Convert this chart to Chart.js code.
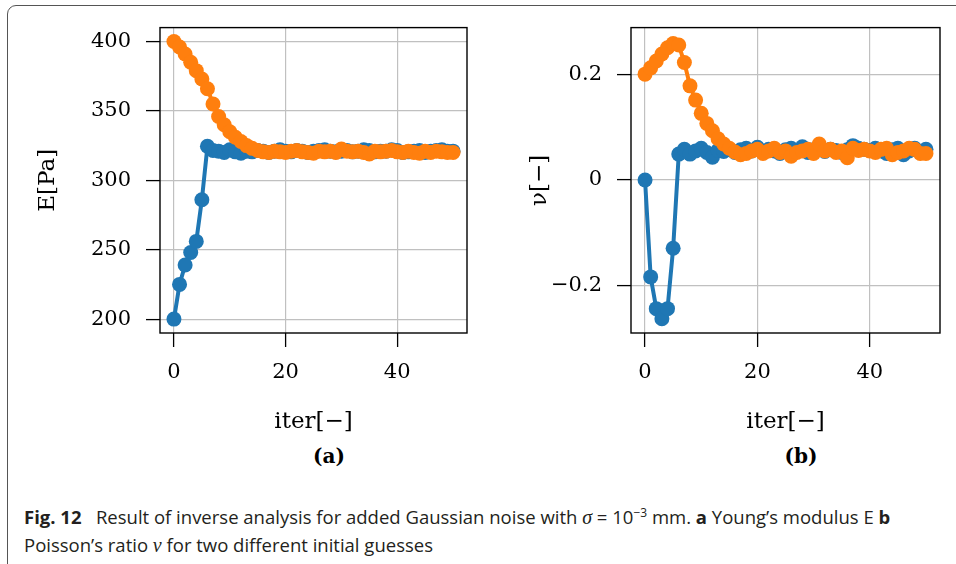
<!DOCTYPE html>
<html>
<head>
<meta charset="utf-8">
<script src="https://cdn.jsdelivr.net/npm/chart.js@4.4.0/dist/chart.umd.min.js"></script>
<style>
  body { margin: 0; background: #fff; width: 956px; height: 564px; overflow: hidden; position: relative; }
  .frame { position: absolute; left: 7px; top: 5px; width: 1000px; height: 600px; border: 1px solid #555; border-radius: 9px; }
  canvas { position: absolute; top: 0; }
  .panel { position: absolute; top: 444px; font-family: 'DejaVu Serif', serif; font-weight: bold; font-size: 20px; transform: translateX(-50%); }
  .caption { position: absolute; left: 24px; top: 503px; font-family: 'Open Sans', sans-serif; font-size: 18.5px; line-height: 27px; color: #231f20; white-space: nowrap; }
  .caption i { font-family: 'Liberation Serif', serif; font-size: 20px; }
  .caption sup { font-size: 12px; line-height: 0; }
</style>
</head>
<body>
<div class="frame"></div>
<canvas id="chartE" width="480" height="440" style="left:0"></canvas>
<canvas id="chartNu" width="476" height="440" style="left:480px"></canvas>
<div class="panel" style="left:329px">(a)</div>
<div class="panel" style="left:801px">(b)</div>
<div class="caption"><b>Fig. 12</b>&nbsp;&nbsp;&nbsp;Result of inverse analysis for added Gaussian noise with <i>σ</i> = 10<sup>−3</sup> mm. <b>a</b> Young’s modulus E <b>b</b><br>Poisson’s ratio <i>ν</i> for two different initial guesses</div>
<script>
// iteration numbers
const iters = [0, 1, 2, 3, 4, 5, 6, 7, 8, 9, 10, 11, 12, 13, 14, 15, 16, 17, 18, 19, 20,
  21, 22, 23, 24, 25, 26, 27, 28, 29, 30, 31, 32, 33, 34, 35, 36, 37, 38, 39, 40,
  41, 42, 43, 44, 45, 46, 47, 48, 49, 50];

// Young's modulus E [Pa], start guess 200 (blue) and 400 (orange)
const E_low = [200, 225, 239, 248, 256, 286, 324.5, 321.5, 321, 320, 322, 320.5, 319.5,
  321, 320.5, 321.5, 321, 320, 321, 322, 321, 320.5, 321.5, 321, 320, 321, 321.5, 322,
  321, 320.5, 321, 321.5, 320.5, 321, 322, 321.5, 320.5, 321, 321, 322, 321.5, 320,
  320.5, 321, 321.5, 320, 321, 321.5, 322, 321, 321];
const E_high = [400, 396, 391, 385, 379, 373, 366, 355, 346, 340, 335, 331, 328, 325, 323,
  321.5, 320.5, 320, 321, 320.5, 320, 321, 321.5, 320.5, 320, 319.5, 321, 320.5, 321,
  320, 322.5, 321, 320.5, 321, 320, 319, 321, 320.5, 321, 321.5, 320.5, 320, 321, 320,
  319.5, 321, 320, 321, 320.5, 320, 320];

// Poisson's ratio nu [-], start guess 0 (blue) and 0.2 (orange)
const nu_low = [0, -0.183, -0.243, -0.262, -0.243, -0.129, 0.049, 0.058, 0.049, 0.055, 0.06,
  0.052, 0.043, 0.056, 0.054, 0.058, 0.052, 0.057, 0.06, 0.055, 0.062, 0.053, 0.058, 0.055,
  0.05, 0.057, 0.06, 0.055, 0.063, 0.052, 0.057, 0.06, 0.054, 0.058, 0.056, 0.052, 0.057,
  0.065, 0.06, 0.058, 0.056, 0.06, 0.055, 0.05, 0.057, 0.06, 0.048, 0.055, 0.06, 0.052, 0.058];
const nu_high = [0.2, 0.212, 0.225, 0.238, 0.25, 0.258, 0.255, 0.222, 0.178, 0.151, 0.126,
  0.107, 0.093, 0.078, 0.068, 0.06, 0.053, 0.048, 0.05, 0.055, 0.058, 0.05, 0.055, 0.06,
  0.052, 0.055, 0.045, 0.052, 0.055, 0.058, 0.05, 0.068, 0.055, 0.058, 0.052, 0.055, 0.042,
  0.06, 0.056, 0.058, 0.055, 0.052, 0.058, 0.06, 0.048, 0.052, 0.055, 0.06, 0.058, 0.05, 0.05];

// tick labels
const iterTicks = [0, 20, 40];
const eTicks = [200, 250, 300, 350, 400];
const nuTicks = [-0.2, 0, 0.2];

const blue = '#1f77b4';
const orange = '#ff7f0e';
const tickFont = { family: 'DejaVu Serif', size: 21 };
const titleFont = { family: 'DejaVu Serif', size: 23 };

function series(ys, color, order) {
  return {
    data: iters.map((x, i) => ({ x: x, y: ys[i] })),
    borderColor: color,
    backgroundColor: color,
    borderWidth: 4,
    pointRadius: 7.5,
    pointHoverRadius: 7.5,
    pointBorderWidth: 0,
    tension: 0,
    order: order
  };
}

// box around the plot area, like matplotlib spines
const frameBox = {
  id: 'frameBox',
  beforeDatasetsDraw(chart) {
    const a = chart.chartArea, ctx = chart.ctx;
    ctx.save();
    ctx.strokeStyle = '#000';
    ctx.lineWidth = 1.4;
    ctx.strokeRect(a.left, a.top, a.right - a.left, a.bottom - a.top);
    ctx.restore();
  }
};

function makeChart(id, lowData, highData, yTicks, yMin, yMax, yTitle, yWidth, yTitlePad, padTop, padRight, fmt) {
  return new Chart(document.getElementById(id), {
    type: 'line',
    data: { datasets: [series(lowData, blue, 1), series(highData, orange, 0)] },
    plugins: [frameBox],
    options: {
      responsive: false,
      animation: false,
      layout: { padding: { top: padTop, right: padRight, left: 0, bottom: 0 } },
      plugins: { legend: { display: false }, tooltip: { enabled: false } },
      scales: {
        x: {
          type: 'linear', min: -2.5, max: 52.5,
          afterBuildTicks: s => { s.ticks = iterTicks.map(v => ({ value: v })); },
          afterFit: s => { s.height = 107; },
          grid: { color: '#c0c0c0', lineWidth: 1.2, tickColor: '#000', tickLength: 14, tickWidth: 1.3 },
          border: { display: false },
          ticks: { font: tickFont, color: '#000', padding: 13, maxRotation: 0 },
          title: { display: true, text: 'iter[−]', font: titleFont, color: '#000', padding: { top: 0, bottom: 4.5 } }
        },
        y: {
          type: 'linear', min: yMin, max: yMax,
          afterBuildTicks: s => { s.ticks = yTicks.map(v => ({ value: v })); },
          afterFit: s => { s.width = yWidth; },
          grid: { color: '#c0c0c0', lineWidth: 1.2, tickColor: '#000', tickLength: 14, tickWidth: 1.3 },
          border: { display: false },
          ticks: { font: tickFont, color: '#000', padding: 15, callback: fmt },
          title: { display: true, text: yTitle, font: titleFont, color: '#000', padding: { top: yTitlePad, bottom: 0 } }
        }
      }
    }
  });
}

makeChart('chartE', E_low, E_high, eTicks, 190, 410, 'E[Pa]', 160, 34, 26, 13,
  v => String(v));
makeChart('chartNu', nu_low, nu_high, nuTicks, -0.289, 0.288, 'ν[−]', 151, 46, 24, 16,
  v => (v < 0 ? '−' + Math.abs(v) : String(v)));
</script>
</body>
</html>
